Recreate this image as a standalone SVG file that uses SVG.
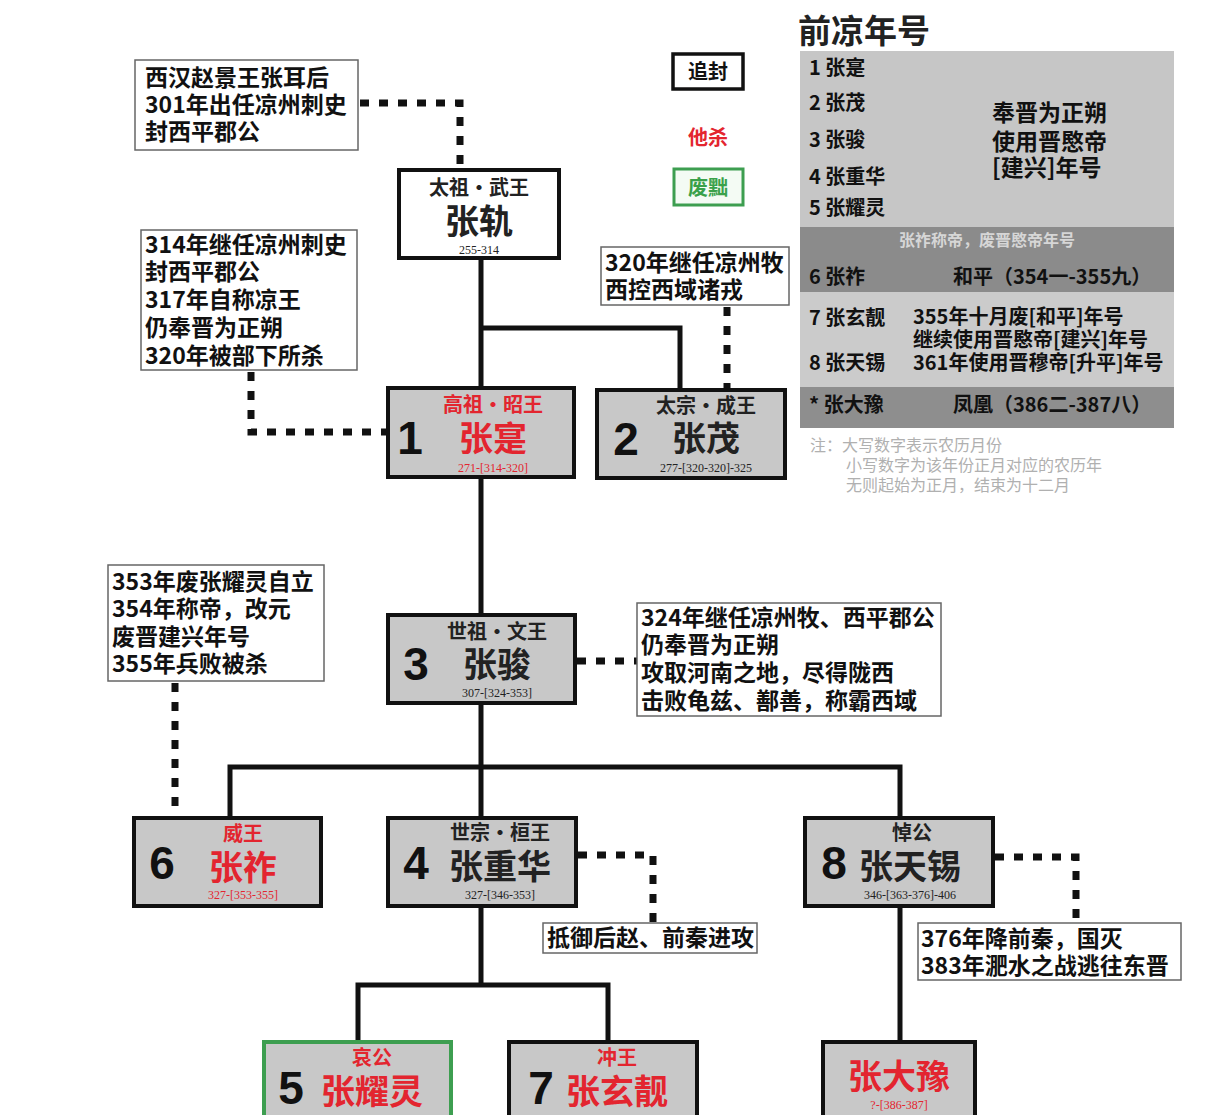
<svg xmlns="http://www.w3.org/2000/svg" width="1230" height="1115" viewBox="0 0 1230 1115">
<style>
.bg{fill:#ffffff}
.node{fill:#c8c8c8;stroke:#111;stroke-width:4}
.nodew{fill:#ffffff;stroke:#111;stroke-width:4}
.nodeg{fill:#c8c8c8;stroke:#3d9e50;stroke-width:4}
.note{fill:#ffffff;stroke:#666;stroke-width:1.5}
.solid{fill:none;stroke:#111;stroke-width:5}
.dot{fill:none;stroke:#111;stroke-width:7;stroke-dasharray:9 10}
.ann{font-family:"Noto Sans CJK SC","Noto Sans",sans-serif;font-weight:bold;font-size:23px;fill:#111}
.num{font-family:"Liberation Sans","Noto Sans",sans-serif;font-weight:bold;font-size:46px;fill:#111;text-anchor:middle}
.ttl{font-family:"Noto Sans CJK SC",sans-serif;font-weight:bold;font-size:20px;fill:#222;text-anchor:middle}
.nm{font-family:"Noto Sans CJK SC",sans-serif;font-weight:bold;font-size:34px;fill:#222;text-anchor:middle}
.yr{font-family:"Liberation Serif",serif;font-size:12px;fill:#222;text-anchor:middle}
.red{fill:#e3252f}
.grn{fill:#3aa14a}
.tb{font-family:"Noto Sans CJK SC",sans-serif;font-weight:bold;font-size:20px;fill:#111}
.lg{font-family:"Noto Sans CJK SC",sans-serif;font-weight:bold;font-size:20px;text-anchor:middle}
.tbr{font-family:"Noto Sans CJK SC",sans-serif;font-weight:bold;font-size:20px;fill:#111}
.nt{font-family:"Noto Sans CJK SC",sans-serif;font-size:16px;fill:#b0b0b0}
</style>
<rect class="bg" x="0" y="0" width="1230" height="1115"/>

<g id="connectors">
  <path class="solid" d="M481 258 V388"/>
  <path class="solid" d="M481 328 H680 V390"/>
  <path class="solid" d="M481 477 V615"/>
  <path class="solid" d="M481 703 V818"/>
  <path class="solid" d="M230 818 V767 H900 V818"/>
  <path class="solid" d="M481 906 V985"/>
  <path class="solid" d="M358 1042 V985 H608 V1042"/>
  <path class="solid" d="M900 906 V1042"/>
  <path class="dot" d="M360 103 H460 V168"/>
  <path class="dot" d="M251 372 V432 H386"/>
  <path class="dot" d="M727 307 V390"/>
  <path class="dot" d="M577 661 H637"/>
  <path class="dot" d="M175 683 V818"/>
  <path class="dot" d="M578 855 H653 V923"/>
  <path class="dot" d="M995 857 H1076 V923"/>
</g>

<g id="note-zhanggui">
  <rect class="note" x="135" y="60" width="223" height="90"/>
  <text class="ann" x="145" y="86">西汉赵景王张耳后</text>
  <text class="ann" x="145" y="113">301年出任凉州刺史</text>
  <text class="ann" x="145" y="140">封西平郡公</text>
</g>

<g id="note-zhangshi">
  <rect class="note" x="141" y="230" width="216" height="140"/>
  <text class="ann" x="145" y="253">314年继任凉州刺史</text>
  <text class="ann" x="145" y="280">封西平郡公</text>
  <text class="ann" x="145" y="308">317年自称凉王</text>
  <text class="ann" x="145" y="336">仍奉晋为正朔</text>
  <text class="ann" x="145" y="364">320年被部下所杀</text>
</g>

<g id="note-zhangmao">
  <rect class="note" x="601" y="247" width="188" height="58"/>
  <text class="ann" x="605" y="271">320年继任凉州牧</text>
  <text class="ann" x="605" y="298">西控西域诸戎</text>
</g>

<g id="note-zhangzuo">
  <rect class="note" x="108" y="565" width="216" height="116"/>
  <text class="ann" x="112" y="590">353年废张耀灵自立</text>
  <text class="ann" x="112" y="617">354年称帝，改元</text>
  <text class="ann" x="112" y="645">废晋建兴年号</text>
  <text class="ann" x="112" y="672">355年兵败被杀</text>
</g>

<g id="note-zhangjun">
  <rect class="note" x="637" y="603" width="304" height="113"/>
  <text class="ann" x="641" y="626">324年继任凉州牧、西平郡公</text>
  <text class="ann" x="641" y="653">仍奉晋为正朔</text>
  <text class="ann" x="641" y="681">攻取河南之地，尽得陇西</text>
  <text class="ann" x="641" y="709">击败龟兹、鄯善，称霸西域</text>
</g>

<g id="note-zhangchonghua">
  <rect class="note" x="543" y="923" width="214" height="30"/>
  <text class="ann" x="547" y="946">抵御后赵、前秦进攻</text>
</g>

<g id="note-zhangtianxi">
  <rect class="note" x="918" y="923" width="263" height="57"/>
  <text class="ann" x="921" y="947">376年降前秦，国灭</text>
  <text class="ann" x="921" y="974">383年淝水之战逃往东晋</text>
</g>

<g id="node-zhanggui">
  <rect class="nodew" x="399" y="170" width="160" height="88"/>
  <text class="ttl" x="479" y="195">太祖·武王</text>
  <text class="nm" x="479" y="234">张轨</text>
  <text class="yr" x="479" y="254">255-314</text>
</g>

<g id="node-1">
  <rect class="node" x="388" y="388" width="186" height="89"/>
  <text class="num" x="410" y="454">1</text>
  <text class="ttl red" x="493" y="412">高祖·昭王</text>
  <text class="nm red" x="493" y="451">张寔</text>
  <text class="yr red" x="493" y="472">271-[314-320]</text>
</g>

<g id="node-2">
  <rect class="node" x="597" y="390" width="188" height="88"/>
  <text class="num" x="626" y="455">2</text>
  <text class="ttl" x="706" y="413">太宗·成王</text>
  <text class="nm" x="706" y="451">张茂</text>
  <text class="yr" x="706" y="472">277-[320-320]-325</text>
</g>

<g id="node-3">
  <rect class="node" x="388" y="615" width="187" height="88"/>
  <text class="num" x="416" y="680">3</text>
  <text class="ttl" x="497" y="639">世祖·文王</text>
  <text class="nm" x="497" y="677">张骏</text>
  <text class="yr" x="497" y="697">307-[324-353]</text>
</g>

<g id="node-6">
  <rect class="node" x="134" y="818" width="187" height="88"/>
  <text class="num" x="162" y="879">6</text>
  <text class="ttl red" x="243" y="841">威王</text>
  <text class="nm red" x="243" y="880">张祚</text>
  <text class="yr red" x="243" y="899">327-[353-355]</text>
</g>

<g id="node-4">
  <rect class="node" x="388" y="818" width="188" height="88"/>
  <text class="num" x="416" y="879">4</text>
  <text class="ttl" x="500" y="840">世宗·桓王</text>
  <text class="nm" x="500" y="879">张重华</text>
  <text class="yr" x="500" y="899">327-[346-353]</text>
</g>

<g id="node-8">
  <rect class="node" x="805" y="818" width="188" height="88"/>
  <text class="num" x="834" y="879">8</text>
  <text class="ttl" x="912" y="840">悼公</text>
  <text class="nm" x="910" y="879">张天锡</text>
  <text class="yr" x="910" y="899">346-[363-376]-406</text>
</g>

<g id="node-5">
  <rect class="nodeg" x="264" y="1042" width="187" height="100"/>
  <text class="num" x="291" y="1104">5</text>
  <text class="ttl red" x="372" y="1065">哀公</text>
  <text class="nm red" x="372" y="1104">张耀灵</text>
</g>

<g id="node-7">
  <rect class="node" x="509" y="1042" width="188" height="100"/>
  <text class="num" x="541" y="1104">7</text>
  <text class="ttl red" x="617" y="1065">冲王</text>
  <text class="nm red" x="617" y="1104">张玄靓</text>
</g>

<g id="node-zhangdayu">
  <rect class="node" x="823" y="1042" width="152" height="100"/>
  <text class="nm red" x="899" y="1089">张大豫</text>
  <text class="yr red" x="899" y="1109">?-[386-387]</text>
</g>

<g id="legend">
  <rect x="673" y="54" width="70" height="35" fill="#ffffff" stroke="#111" stroke-width="3.5"/>
  <text class="lg" x="708" y="79" fill="#111">追封</text>
  <text class="lg red" x="708" y="145">他杀</text>
  <rect x="674" y="169" width="69" height="36" fill="#f4fbf4" stroke="#3d9e50" stroke-width="3"/>
  <text class="lg grn" x="708" y="195">废黜</text>
</g>

<g id="era-table">
  <text x="798" y="43" font-family="Noto Sans CJK SC, sans-serif" font-weight="bold" font-size="33" fill="#222">前凉年号</text>
  <rect x="800" y="51" width="374" height="176" fill="#c6c6c6"/>
  <rect x="800" y="227" width="374" height="65" fill="#8b8b8b"/>
  <rect x="800" y="292" width="374" height="95" fill="#cbcbcb"/>
  <rect x="800" y="387" width="374" height="41" fill="#8e8e8e"/>
  <text class="tb" x="809" y="75">1 张寔</text>
  <text class="tb" x="809" y="110">2 张茂</text>
  <text class="tb" x="809" y="147">3 张骏</text>
  <text class="tb" x="809" y="184">4 张重华</text>
  <text class="tb" x="809" y="215">5 张耀灵</text>
  <text class="ann" x="992" y="121">奉晋为正朔</text>
  <text class="ann" x="992" y="150">使用晋愍帝</text>
  <text class="ann" x="992" y="176">[建兴]年号</text>
  <text x="987" y="246" text-anchor="middle" font-family="Noto Sans CJK SC, sans-serif" font-weight="bold" font-size="16" fill="#d6d6d6">张祚称帝，废晋愍帝年号</text>
  <text class="tb" x="809" y="284">6 张祚</text>
  <text class="tbr" x="953" y="284">和平（354一-355九）</text>
  <text class="tb" x="809" y="325">7 张玄靓</text>
  <text class="tb" x="809" y="370">8 张天锡</text>
  <text class="tbr" x="913" y="324">355年十月废[和平]年号</text>
  <text class="tbr" x="913" y="347">继续使用晋愍帝[建兴]年号</text>
  <text class="tbr" x="913" y="370">361年使用晋穆帝[升平]年号</text>
  <text class="tb" x="809" y="412">* 张大豫</text>
  <text class="tbr" x="953" y="412">凤凰（386二-387八）</text>
  <text class="nt" x="810" y="451">注：大写数字表示农历月份</text>
  <text class="nt" x="846" y="471">小写数字为该年份正月对应的农历年</text>
  <text class="nt" x="846" y="491">无则起始为正月，结束为十二月</text>
</g>
</svg>
